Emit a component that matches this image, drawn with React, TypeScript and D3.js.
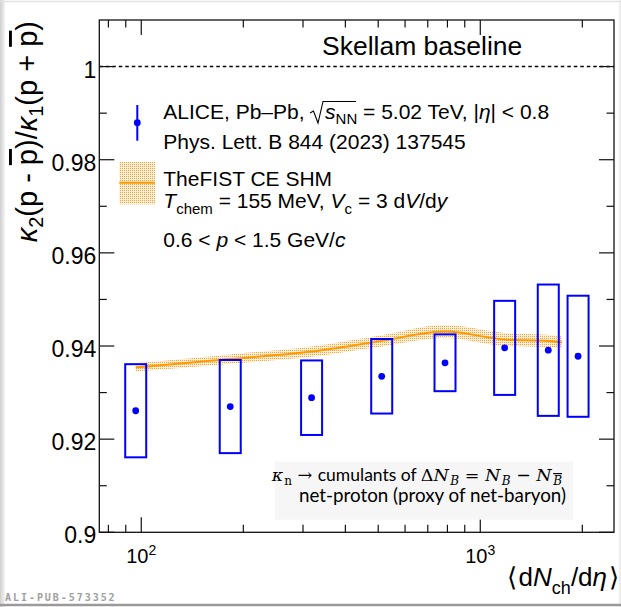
import React from "react";
import * as d3 from "d3";

// ALICE data: <dNch/deta> per centrality class, kappa2/kappa1 ratio, systematic uncertainties
const dNdEta = [96.3, 183, 318, 512, 787, 1180, 1587, 1943];
const ratio = [0.9261, 0.927, 0.9289, 0.9335, 0.9364, 0.9396, 0.9391, 0.9378];
const sysErr = [0.01, 0.01, 0.008, 0.008, 0.0061, 0.0101, 0.0141, 0.013];

// Thermal-FIST CE SHM model
const modelX = [96.3, 183, 318, 512, 787, 1180, 1587, 1740];
const modelY = [0.9354, 0.9372, 0.9388, 0.9411, 0.9431, 0.9414, 0.9411, 0.9408];
const modelErr = [0.0009, 0.001, 0.0011, 0.0012, 0.0014, 0.0014, 0.0013, 0.0013];

const yMajor = [0.9, 0.92, 0.94, 0.96, 0.98, 1.0];
const yMajorLabels = ["0.9", "0.92", "0.94", "0.96", "0.98", "1"];
const yMinor = [0.91, 0.93, 0.95, 0.97, 0.99];
const xMajor = [100, 1000];
const xMajorExp = ["2", "3"];
const xMinor = [80, 90, 200, 300, 400, 500, 600, 700, 800, 900, 2000];

const W = 621;
const H = 607;
const L = 99.3;
const R = 614;
const T = 20;
const B = 532.3;

const BLUE = "#0000ff";
const ORANGE = "#ff9900";
const SANS = "'Liberation Sans', Arial, Helvetica, sans-serif";
const SERIF = "'DejaVu Serif', 'Liberation Serif', serif";

export default function App() {
  const x = d3.scaleLog().domain([75.2, 2480]).range([L, R]);
  const y = d3.scaleLinear().domain([0.9, 1.01]).range([B, T]);

  const idx = d3.range(modelX.length);
  const area = d3
    .area<number>()
    .x((i) => x(modelX[i]))
    .y0((i) => y(modelY[i] - modelErr[i]))
    .y1((i) => y(modelY[i] + modelErr[i]))
    .curve(d3.curveMonotoneX);
  const line = d3
    .line<number>()
    .x((i) => x(modelX[i]))
    .y((i) => y(modelY[i]))
    .curve(d3.curveMonotoneX);

  const boxW = 21;
  const majLen = 15;
  const minLen = 7.5;

  return (
    <svg
      width={W}
      height={H}
      style={{ position: "absolute", left: 0, top: 0, fontFamily: SANS }}
    >
      <defs>
        <pattern id="dots" width="2" height="2" patternUnits="userSpaceOnUse">
          <rect width="2" height="2" fill="#fdeed6" />
          <rect width="1" height="1" fill="#f0a53e" />
        </pattern>
        <linearGradient id="lshadow" x1="0" x2="1" y1="0" y2="0">
          <stop offset="0" stopColor="#cfcfcf" />
          <stop offset="1" stopColor="#f4f4f4" />
        </linearGradient>
      </defs>
      <rect x={0} y={0} width={W} height={H} fill="#ffffff" />
      {/* outer screenshot frame */}
      <rect x={0} y={0} width={5} height={H} fill="url(#lshadow)" />
      <line x1={0} x2={W} y1={1.5} y2={1.5} stroke="#e2e2e2" strokeWidth={1.5} />
      <line x1={W - 1} x2={W - 1} y1={0} y2={H} stroke="#e6e6e6" strokeWidth={1.5} />
      <line x1={0} x2={W} y1={605} y2={605} stroke="#9a9a9a" strokeWidth={2.5} />

      {/* model band and line */}
      <path d={area(idx) || ""} fill="url(#dots)" />
      <path d={line(idx) || ""} fill="none" stroke={ORANGE} strokeWidth={2} />

      {/* data boxes and points */}
      {dNdEta.map((v, i) => (
        <g key={"d" + i}>
          <rect
            x={x(v) - boxW / 2}
            y={y(ratio[i] + sysErr[i])}
            width={boxW}
            height={y(ratio[i] - sysErr[i]) - y(ratio[i] + sysErr[i])}
            fill="none"
            stroke={BLUE}
            strokeWidth={2}
          />
          <circle cx={x(v)} cy={y(ratio[i])} r={3.4} fill={BLUE} />
        </g>
      ))}

      {/* Skellam baseline */}
      <line
        x1={L}
        x2={R}
        y1={y(1)}
        y2={y(1)}
        stroke="#000"
        strokeWidth={1.4}
        strokeDasharray="3.5,3"
      />
      <text x={322} y={54.5} fontSize={26.5} fill="#000">
        Skellam baseline
      </text>

      {/* frame */}
      <rect x={L} y={T} width={R - L} height={B - T} fill="none" stroke="#111" strokeWidth={1.3} />

      {/* y ticks */}
      {yMajor.map((v, i) => (
        <g key={"ym" + i}>
          <line x1={L} x2={L + majLen} y1={y(v)} y2={y(v)} stroke="#111" strokeWidth={1.2} />
          <line x1={R} x2={R - majLen} y1={y(v)} y2={y(v)} stroke="#111" strokeWidth={1.2} />
          <text x={L - 3} y={y(v) + 11} fontSize={23} textAnchor="end" fill="#000">
            {yMajorLabels[i]}
          </text>
        </g>
      ))}
      {yMinor.map((v, i) => (
        <g key={"yn" + i}>
          <line x1={L} x2={L + minLen} y1={y(v)} y2={y(v)} stroke="#111" strokeWidth={1.2} />
          <line x1={R} x2={R - minLen} y1={y(v)} y2={y(v)} stroke="#111" strokeWidth={1.2} />
        </g>
      ))}

      {/* x ticks */}
      {xMajor.map((v, i) => (
        <g key={"xm" + i}>
          <line x1={x(v)} x2={x(v)} y1={B} y2={B - majLen} stroke="#111" strokeWidth={1.2} />
          <line x1={x(v)} x2={x(v)} y1={T} y2={T + majLen} stroke="#111" strokeWidth={1.2} />
          <text x={x(v)} y={563.3} fontSize={20} textAnchor="middle" fill="#000">
            10
            <tspan fontSize={14} dy={-8}>
              {xMajorExp[i]}
            </tspan>
          </text>
        </g>
      ))}
      {xMinor.map((v, i) => (
        <g key={"xn" + i}>
          <line x1={x(v)} x2={x(v)} y1={B} y2={B - minLen} stroke="#111" strokeWidth={1.2} />
          <line x1={x(v)} x2={x(v)} y1={T} y2={T + minLen} stroke="#111" strokeWidth={1.2} />
        </g>
      ))}

      {/* axis titles */}
      <text x={619} y={586} fontSize={26} textAnchor="end" fill="#000">
        ⟨<tspan dx={2}>d</tspan>
        <tspan fontStyle="italic">N</tspan>
        <tspan fontSize={18} dy={8}>
          ch
        </tspan>
        <tspan dy={-8}>/d</tspan>
        <tspan fontStyle="italic">η</tspan>
        <tspan dx={2}>⟩</tspan>
      </text>
      <text
        transform="translate(37,21) rotate(-90)"
        fontSize={29}
        textAnchor="end"
        fill="#000"
      >
        <tspan fontStyle="italic">κ</tspan>
        <tspan fontSize={20} dy={6}>
          2
        </tspan>
        <tspan dy={-6}>(p - </tspan>
        <tspan style={{ textDecoration: "overline" }}>p</tspan>
        <tspan>)/</tspan>
        <tspan fontStyle="italic">κ</tspan>
        <tspan fontSize={20} dy={6}>
          1
        </tspan>
        <tspan dy={-6}>(p + </tspan>
        <tspan style={{ textDecoration: "overline" }}>p</tspan>
        <tspan>)</tspan>
      </text>

      {/* legend: ALICE */}
      <line x1={137.3} x2={137.3} y1={105} y2={140.7} stroke={BLUE} strokeWidth={2} />
      <circle cx={137.3} cy={122.7} r={3.4} fill={BLUE} />
      <text x={163.3} y={119.3} fontSize={21} fill="#000">
        ALICE, Pb–Pb,
        <tspan dx={20.5} fontStyle="italic">
          s
        </tspan>
        <tspan fontSize={15} dy={5}>
          NN
        </tspan>
        <tspan dy={-5}> = 5.02 TeV, |</tspan>
        <tspan fontStyle="italic">η</tspan>| &lt; 0.8
      </text>
      <path
        d="M310,113 L313.5,111 L318,123 L323,101.5 L356,101.5"
        fill="none"
        stroke="#000"
        strokeWidth={1.1}
      />
      <text x={163.3} y={149} fontSize={21} fill="#000">
        Phys. Lett. B 844 (2023) 137545
      </text>

      {/* legend: model */}
      <rect x={119.3} y={161.7} width={35.7} height={42.6} fill="url(#dots)" />
      <line x1={119.3} x2={155} y1={182.7} y2={182.7} stroke={ORANGE} strokeWidth={2} />
      <text x={163.3} y={186} fontSize={21} fill="#000">
        TheFIST CE SHM
      </text>
      <text x={163.3} y={208.3} fontSize={21} fill="#000">
        <tspan fontStyle="italic">T</tspan>
        <tspan fontSize={15} dy={6}>
          chem
        </tspan>
        <tspan dy={-6}> = 155 MeV, </tspan>
        <tspan fontStyle="italic">V</tspan>
        <tspan fontSize={15} dy={6}>
          c
        </tspan>
        <tspan dy={-6}> = 3 d</tspan>
        <tspan fontStyle="italic">V</tspan>/d
        <tspan fontStyle="italic">y</tspan>
      </text>
      <text x={163.3} y={247.3} fontSize={21} fill="#000">
        0.6 &lt; <tspan fontStyle="italic">p</tspan> &lt; 1.5 GeV/
        <tspan fontStyle="italic">c</tspan>
      </text>

      {/* annotation */}
      <rect x={275} y={461.7} width={298} height={58} fill="#f6f6f6" />
      <text x={562} y={481} fontSize={17.5} textAnchor="end" fill="#000">
        <tspan fontFamily={SERIF} fontStyle="italic">κ</tspan>
        <tspan fontFamily={SERIF} fontSize={12} dy={4} dx={1}>
          n
        </tspan>
        <tspan fontFamily={SERIF} dy={-4}>
          {" → "}
        </tspan>
        <tspan fontFamily="Lato, sans-serif">cumulants of </tspan>
        <tspan fontFamily={SERIF}>Δ</tspan>
        <tspan fontFamily={SERIF} fontStyle="italic">N</tspan>
        <tspan fontFamily={SERIF} fontStyle="italic" fontSize={12} dy={4} dx={1.5}>
          B
        </tspan>
        <tspan fontFamily={SERIF} dy={-4}>
          {" = "}
        </tspan>
        <tspan fontFamily={SERIF} fontStyle="italic">N</tspan>
        <tspan fontFamily={SERIF} fontStyle="italic" fontSize={12} dy={4} dx={1.5}>
          B
        </tspan>
        <tspan fontFamily={SERIF} dy={-4}>
          {" − "}
        </tspan>
        <tspan fontFamily={SERIF} fontStyle="italic">N</tspan>
        <tspan
          fontFamily={SERIF}
          fontStyle="italic"
          fontSize={12}
          dy={4}
          dx={1.5}
          style={{ textDecoration: "overline" }}
        >
          B
        </tspan>
      </text>
      <text x={566} y={502} fontSize={18.8} textAnchor="end" fontFamily="Lato, sans-serif" fill="#000">
        net-proton (proxy of net-baryon)
      </text>

      <text
        x={5}
        y={601}
        fontSize={10}
        fontFamily="'DejaVu Sans Mono', monospace"
        fontWeight="bold"
        letterSpacing={1.95}
        fill="#a0a0a0"
      >
        ALI-PUB-573352
      </text>
    </svg>
  );
}
